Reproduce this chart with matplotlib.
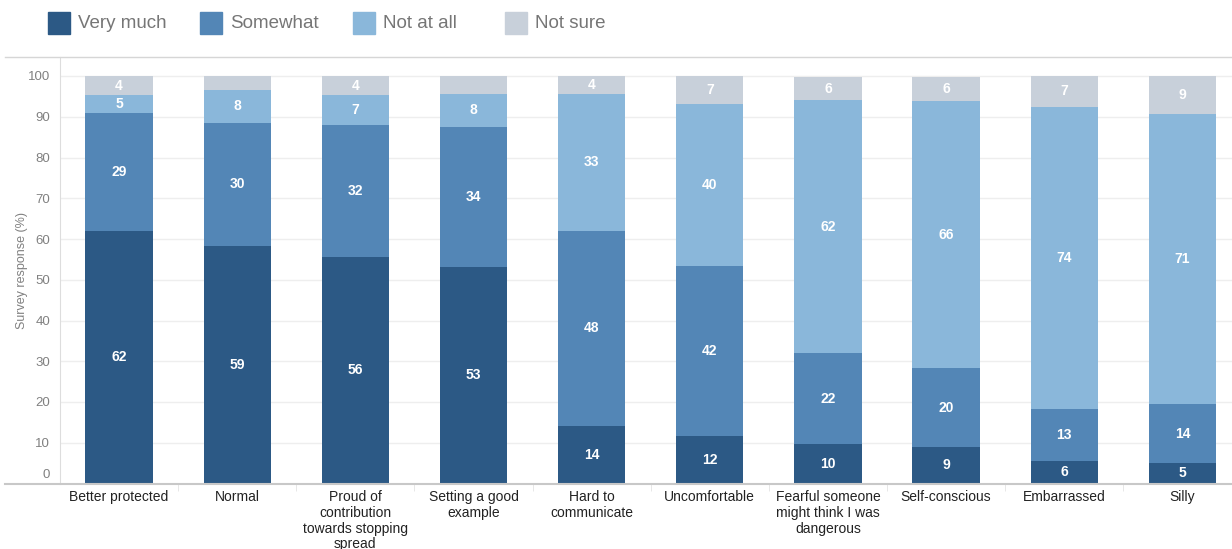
import matplotlib.pyplot as plt
import matplotlib.transforms as mtransforms
from matplotlib.patches import Rectangle
import numpy as np

plt.rcParams['font.family'] = ['Liberation Sans', 'DejaVu Sans']

# Survey data (% of respondents), segment heights
categories = [
    "Better protected", "Normal",
    "Proud of\ncontribution\ntowards stopping\nspread",
    "Setting a good\nexample", "Hard to\ncommunicate", "Uncomfortable",
    "Fearful someone\nmight think I was\ndangerous",
    "Self-conscious", "Embarrassed", "Silly",
]
very_much = [62.0, 58.3, 55.6, 53.1, 14.1, 11.7, 9.7, 9.0, 5.5, 5.0]
somewhat = [28.9, 30.2, 32.4, 34.4, 47.9, 41.7, 22.3, 19.3, 12.8, 14.5]
not_at_all = [4.4, 8.1, 7.3, 8.1, 33.6, 39.7, 62.1, 65.6, 74.1, 71.2]
not_sure = [4.7, 3.4, 4.7, 4.4, 4.4, 6.9, 5.6, 5.8, 7.6, 9.3]

# value labels printed on the segments (None = no label shown)
very_much_labels = [62, 59, 56, 53, 14, 12, 10, 9, 6, 5]
somewhat_labels = [29, 30, 32, 34, 48, 42, 22, 20, 13, 14]
not_at_all_labels = [5, 8, 7, 8, 33, 40, 62, 66, 74, 71]
not_sure_labels = [4, None, 4, None, 4, 7, 6, 6, 7, 9]

series_names = ["Very much", "Somewhat", "Not at all", "Not sure"]
colors = ["#2c5985", "#5386b6", "#8ab7da", "#c8d0da"]

W, H = 1232, 549
fig = plt.figure(figsize=(W / 100, H / 100), dpi=100)
ax = fig.add_axes([60 / W, 1 - 483.5 / H, 1 - 60 / W, (483.5 - 57) / H])

x = np.arange(len(categories))
width = 0.57
series = [very_much, somewhat, not_at_all, not_sure]
labels = [very_much_labels, somewhat_labels, not_at_all_labels, not_sure_labels]
bottom = np.zeros(len(categories))
for vals, labs, col in zip(series, labels, colors):
    vals = np.array(vals)
    ax.bar(x, vals, width, bottom=bottom, color=col, zorder=3)
    for j, v in enumerate(vals):
        if labs[j] is None:
            continue
        ax.text(x[j], bottom[j] + v / 2, str(labs[j]), ha='center', va='center',
                color='white', fontsize=10, fontweight='bold', zorder=4)
    bottom += vals

ymax = (483.5 - 57) / 4.075
ax.set_ylim(0, ymax)
ax.set_xlim(-0.5, len(categories) - 0.58)

# gridlines + y ticks ("0" sits a bit above the baseline)
ax.set_yticks(np.arange(0, 101, 10))
ax.yaxis.grid(True, color='#eeeeee', linewidth=1, zorder=0)
ax.set_yticklabels([""] + [str(v) for v in range(10, 101, 10)])
ax.tick_params(axis='y', length=0, pad=7, labelsize=9.5, labelcolor='#808080')
off = mtransforms.offset_copy(ax.get_yaxis_transform(), fig=fig, x=-7, y=6, units='points')
ax.text(0, 0, "0", transform=off, ha='right', va='center', fontsize=9.5, color='#808080')

ax.set_xticks(x)
ax.set_xticklabels(categories, fontsize=10, color='#222222', linespacing=1.15)
ax.tick_params(axis='x', length=0, pad=5)
ax.set_xticks(x[:-1] + 0.5, minor=True)
ax.tick_params(axis='x', which='minor', length=5, color='#e3e3e3', direction='out')

for s in ['top', 'right', 'bottom']:
    ax.spines[s].set_visible(False)
ax.spines['left'].set_color('#dddddd')

ax.set_ylabel("Survey response (%)", fontsize=9, color='#808080', labelpad=0)

# frame lines spanning the full width
fig.add_artist(plt.Line2D([5 / W, 1], [1 - 57 / H] * 2, color='#d6d6d6', linewidth=1))
fig.add_artist(plt.Line2D([5 / W, 1], [1 - 483.5 / H] * 2, color='#c8c8c8', linewidth=1.5))

# legend: fixed-width entries along the top
for i, (name, col) in enumerate(zip(series_names, colors)):
    x0 = 48 + i * 152.3
    fig.add_artist(Rectangle((x0 / W, 1 - 34 / H), 22 / W, 22 / H, color=col,
                             transform=fig.transFigure))
    fig.text((x0 + 30) / W, 1 - 23 / H, name, fontsize=13.5, color='#767676',
             ha='left', va='center')

fig.savefig("out.png", dpi=100)
